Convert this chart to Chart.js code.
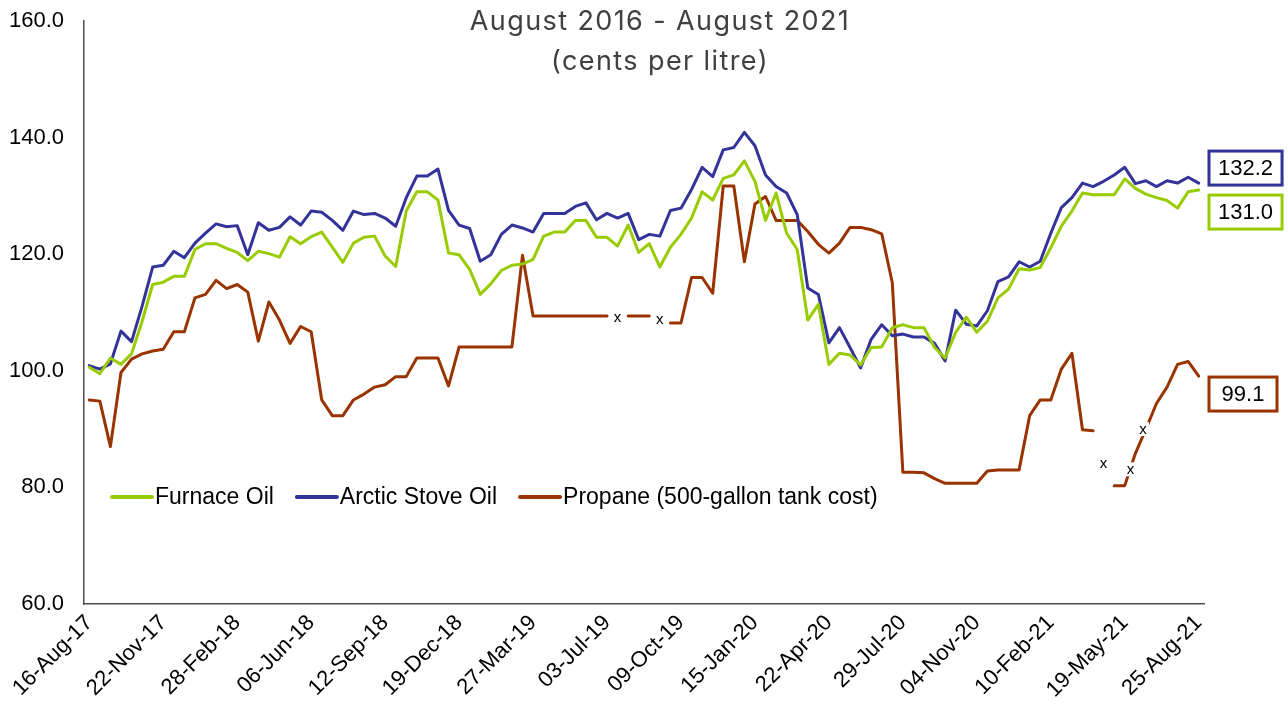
<!DOCTYPE html>
<html>
<head>
<meta charset="utf-8">
<script src="https://cdn.jsdelivr.net/npm/chart.js@4.4.1/dist/chart.umd.min.js"></script>
<style>
    html, body { margin: 0; padding: 0; background: #fff; }
    #wrap { width: 1288px; height: 711px; position: relative; }
</style>
</head>
<body>
<div id="wrap"><canvas id="chart"></canvas></div>
<script>
// biweekly survey dates, 16-Aug-17 .. 25-Aug-21
const FIRST_DATE = Date.UTC(2017, 7, 16);
const N_POINTS = 106;
const LABEL_EVERY = 7;
const MONTHS = ["Jan", "Feb", "Mar", "Apr", "May", "Jun", "Jul", "Aug", "Sep", "Oct", "Nov", "Dec"];

const dates = [];
for (let i = 0; i < N_POINTS; i++) {
    const d = new Date(FIRST_DATE + i * 14 * 86400000);
    const dd = String(d.getUTCDate()).padStart(2, "0");
    const yy = String(d.getUTCFullYear()).slice(2);
    dates.push(dd + "-" + MONTHS[d.getUTCMonth()] + "-" + yy);
}

const series_names = ["Furnace Oil", "Arctic Stove Oil", "Propane (500-gallon tank cost)"];

const furnace_oil = [
    100.6, 99.5, 102.2, 101.1, 102.9, 108.5, 114.8, 115.2, 116.2, 116.2,
    120.8, 121.8, 121.8, 121.0, 120.3, 118.9, 120.5, 120.1, 119.5, 123.0,
    121.8, 123.0, 123.8, 121.2, 118.6, 121.9, 122.9, 123.1, 119.7, 117.9,
    127.4, 130.7, 130.7, 129.3, 120.2, 119.9, 117.4, 113.1, 114.9, 117.2,
    118.1, 118.3, 119.1, 123.1, 123.8, 123.8, 125.8, 125.8, 122.9, 122.9,
    121.4, 125.0, 120.3, 121.8, 117.8, 121.2, 123.4, 126.2, 130.7, 129.3,
    133.0, 133.6, 136.0, 132.5, 125.8, 130.5, 123.6, 120.8, 108.7, 111.4,
    101.1, 103.0, 102.7, 101.0, 104.0, 104.1, 107.4, 107.9, 107.4, 107.4,
    104.0, 102.2, 106.6, 109.2, 106.6, 108.5, 112.5, 114.0, 117.5, 117.3,
    117.7, 121.1, 124.8, 127.4, 130.5, 130.2, 130.2, 130.2, 132.9, 131.3,
    130.3, 129.7, 129.2, 127.9, 130.7, 131.0
];

const arctic_stove_oil = [
    100.9, 100.3, 101.2, 106.8, 105.0, 111.1, 117.8, 118.1, 120.5, 119.4,
    121.9, 123.6, 125.2, 124.7, 124.9, 119.9, 125.4, 124.1, 124.6, 126.4,
    125.0, 127.4, 127.2, 125.8, 124.1, 127.4, 126.8, 127.0, 126.2, 124.8,
    129.7, 133.4, 133.4, 134.6, 127.5, 125.0, 124.4, 118.8, 119.9, 123.4,
    125.0, 124.5, 123.8, 127.0, 127.0, 127.0, 128.2, 128.8, 125.9, 127.0,
    126.2, 127.0, 122.5, 123.4, 123.1, 127.5, 127.9, 131.1, 134.9, 133.3,
    137.9, 138.3, 140.9, 138.6, 133.6, 131.6, 130.5, 126.8, 114.2, 113.1,
    104.8, 107.4, 104.0, 100.5, 105.4, 107.9, 106.0, 106.3, 105.8, 105.8,
    104.7, 101.7, 110.4, 108.0, 107.7, 110.3, 115.3, 116.1, 118.7, 117.8,
    118.8, 123.6, 128.0, 129.7, 132.2, 131.6, 132.5, 133.6, 134.9, 132.1,
    132.6, 131.6, 132.6, 132.2, 133.2, 132.2
];

// null = not reported ("x" in the source)
const propane = [
    95.0, 94.8, 87.0, 99.7, 102.0, 102.9, 103.4, 103.7, 106.7, 106.7,
    112.5, 113.1, 115.5, 114.1, 114.8, 113.5, 105.1, 111.8, 108.7, 104.7,
    107.6, 106.7, 95.0, 92.3, 92.3, 95.0, 96.0, 97.2, 97.6, 99.0,
    99.0, 102.2, 102.2, 102.2, 97.4, 104.1, 104.1, 104.1, 104.1, 104.1,
    104.1, 119.8, 109.4, 109.4, 109.4, 109.4, 109.4, 109.4, 109.4, 109.4,
    null, 109.4, 109.4, 109.4, null, 108.2, 108.2, 116.0, 116.0, 113.3,
    131.7, 131.7, 118.7, 128.6, 129.9, 125.8, 125.8, 125.8, 123.9, 121.7,
    120.2, 121.9, 124.6, 124.6, 124.2, 123.5, 115.1, 82.6, 82.6, 82.5,
    81.5, 80.7, 80.7, 80.7, 80.7, 82.8, 83.0, 83.0, 83.0, 92.3,
    95.0, 95.0, 100.3, 103.0, 89.9, 89.7, null, 80.3, 80.3, 85.8,
    90.0, 94.4, 97.2, 101.1, 101.6, 99.1
];

// "x" labels on the propane line: [category position, value]
const x_marks = [[50, 109.2], [54, 108.9], [96, 84.2], [98.55, 83.1], [99.72, 90.0]];

const Y_MIN = 60;
const Y_MAX = 160;
const Y_STEP = 20;

const title_lines = ["August 2016 - August 2021", "(cents per litre)"];

const GREEN = "#99cc00";
const BLUE = "#333399";
const BROWN = "#993300";
const FONT = '"Liberation Sans", Arial, sans-serif';

// title, legend, x labels and end-value boxes are drawn by hand
const overlay = {
    id: "overlay",
    afterDatasetsDraw(chart) {
        const { ctx, scales: { x, y } } = chart;
        ctx.save();
        ctx.font = "15px " + FONT;
        ctx.textAlign = "center";
        ctx.textBaseline = "middle";
        x_marks.forEach(([pos, val]) => {
            const px = x.getPixelForValue(pos);
            const py = y.getPixelForValue(val);
            ctx.fillStyle = "#fff";
            ctx.fillRect(px - 6, py - 7, 12, 14);
            ctx.fillStyle = "#000";
            ctx.fillText("x", px, py + 1);
        });
        ctx.restore();
    },
    afterDraw(chart) {
        const { ctx, scales: { y } } = chart;
        ctx.save();

        // title
        ctx.fillStyle = "#404040";
        ctx.font = "27px Inter, sans-serif";
        ctx.letterSpacing = "1.4px";
        ctx.textAlign = "center";
        ctx.textBaseline = "middle";
        ctx.fillText(title_lines[0], 660, 22);
        ctx.fillText(title_lines[1], 660, 62);
        ctx.letterSpacing = "0px";

        // legend
        ctx.font = "23px " + FONT;
        ctx.textAlign = "left";
        let lx = 112;
        chart.data.datasets.forEach((ds) => {
            ctx.strokeStyle = ds.borderColor;
            ctx.lineWidth = 4;
            ctx.lineCap = "round";
            ctx.beginPath();
            ctx.moveTo(lx, 497);
            ctx.lineTo(lx + 40, 497);
            ctx.stroke();
            ctx.fillStyle = "#000";
            ctx.fillText(ds.label, lx + 43, 498);
            lx += 43 + ctx.measureText(ds.label).width + 23;
        });

        // last-value boxes
        const nudge = [22, -15, 18];
        ctx.font = "22px " + FONT;
        ctx.textAlign = "center";
        chart.data.datasets.forEach((ds, k) => {
            const last = ds.data[ds.data.length - 1];
            const txt = last.toFixed(1);
            const w = Math.max(ctx.measureText(txt).width + 18, 68);
            const cy = y.getPixelForValue(last) + nudge[k];
            ctx.fillStyle = "#fff";
            ctx.fillRect(1209, cy - 17, w, 34);
            ctx.strokeStyle = ds.borderColor;
            ctx.lineWidth = 3;
            ctx.strokeRect(1209, cy - 17, w, 34);
            ctx.fillStyle = "#000";
            ctx.fillText(txt, 1209 + w / 2, cy + 1);
        });
        ctx.restore();
    },
};

function makeLine(label, data, color) {
    return {
        label: label,
        data: data,
        borderColor: color,
        backgroundColor: color,
        borderWidth: 3,
        pointRadius: 0,
        tension: 0,
        spanGaps: false,
        borderJoinStyle: "round",
        borderCapStyle: "round",
    };
}

new Chart(document.getElementById("chart").getContext("2d"), {
    type: "line",
    data: {
        labels: dates,
        datasets: [
            makeLine(series_names[0], furnace_oil, GREEN),
            makeLine(series_names[1], arctic_stove_oil, BLUE),
            makeLine(series_names[2], propane, BROWN),
        ],
    },
    options: {
        responsive: true,
        maintainAspectRatio: false,
        animation: false,
        layout: { padding: { top: 21, right: 84, bottom: 0, left: 0 } },
        plugins: {
            legend: { display: false },
            title: { display: false },
            tooltip: { enabled: false },
        },
        scales: {
            x: {
                offset: true,
                grid: { display: false, drawTicks: false },
                border: { display: true, color: "#4d4d4d", width: 1.5 },
                ticks: {
                    autoSkip: false,
                    minRotation: 45,
                    maxRotation: 45,
                    padding: 6,
                    color: "#000",
                    font: { family: FONT, size: 22 },
                    callback: function (v, i) {
                        return i % LABEL_EVERY === 0 ? this.getLabelForValue(v) : null;
                    },
                },
                afterFit: (axis) => { axis.height = 107; },
            },
            y: {
                min: Y_MIN,
                max: Y_MAX,
                grid: { display: false, drawTicks: false },
                border: { display: true, color: "#4d4d4d", width: 1.5 },
                ticks: {
                    stepSize: Y_STEP,
                    padding: 20,
                    color: "#000",
                    font: { family: FONT, size: 22 },
                    callback: (v) => v.toFixed(1),
                },
                afterFit: (axis) => {
                    axis.width = 84;
                    axis.paddingTop = 0;
                    axis.paddingBottom = 0;
                },
            },
        },
    },
    plugins: [overlay],
});
</script>
</body>
</html>
